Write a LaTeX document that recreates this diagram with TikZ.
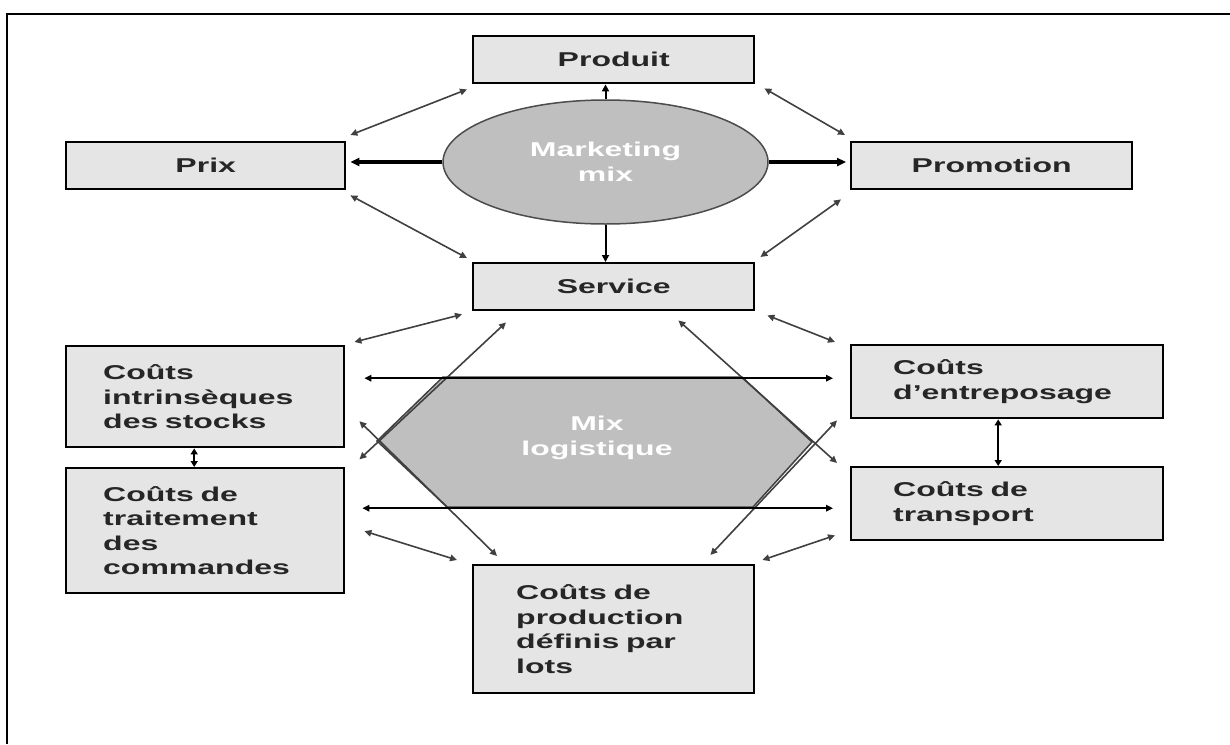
\documentclass[tikz,border=0pt]{standalone}
\usepackage{fontspec}
\setmainfont{Liberation Sans}[FakeStretch=1.6]
\usetikzlibrary{arrows.meta,calc,shapes.geometric}

\begin{document}
\begin{tikzpicture}[x=1pt,y=-1pt,
  txt/.style={font=\fontsize{20}{24.5}\selectfont\bfseries},
  box/.style={txt, draw=black, line width=2.4pt, fill=black!10, text=black!85,
    inner sep=0pt, anchor=north west},
  lbox/.style={box, align=left, inner xsep=#1},
  tip/.style={-{Triangle[length=7pt,width=6.5pt]}},
  dbl/.style={{Triangle[length=7pt,width=6.5pt]}-{Triangle[length=7pt,width=6.5pt]},
    draw=black!75, line width=1.6pt},
  hline/.style={{Triangle[length=7pt,width=6.5pt]}-{Triangle[length=7pt,width=6.5pt]},
    draw=black, line width=1.8pt},
  thick arrow/.style={-{Triangle[length=9pt,width=8pt]}, draw=black, line width=3.5pt},
  stem/.style={-{Triangle[length=7pt,width=7pt]}, draw=black, line width=2pt},
  pair/.style={{Triangle[length=6pt,width=7pt]}-{Triangle[length=6pt,width=7pt]},
    draw=black, line width=2pt}
]
\useasboundingbox (0,0) rectangle (1230,744);

% frame
\draw[line width=2pt] (7,744) -- (7,14) -- (1230,14);

% marketing mix boxes
\node[box, minimum width=281pt, minimum height=47pt] (prod) at (472,35) {Produit};
\node[box, minimum width=279pt, minimum height=47pt] (prix) at (65,141) {Prix};
\node[box, minimum width=281pt, minimum height=47pt] (promo) at (850,141) {Promotion};
\node[box, minimum width=281pt, minimum height=47pt] (serv) at (472,262) {Service};

% marketing mix ellipse
\node[ellipse, draw=black!70, line width=1.5pt, fill=black!25, minimum width=325pt,
  minimum height=124pt, txt, text=white, align=center] (mk) at (605.5,162)
  {Marketing\\mix};

% logistics mix hexagon
\filldraw[fill=black!25, draw=black!75, line width=1.5pt]
  (377,441) -- (443,377) -- (742,377) -- (812,442) -- (753,507) -- (447,507) -- cycle;
\node[txt, text=white, align=center] (mixlog) at (597,438) {Mix\\logistique};

% cost boxes
\node[lbox=37pt, text width=204pt, minimum height=101pt] (intr) at (65,345)
  {Coûts\\intrinsèques\\des stocks};
\node[lbox=37pt, text width=204pt, minimum height=125pt] (trait) at (65,467)
  {Coûts de\\traitement\\des\\commandes};
\node[lbox=42pt, text width=228pt, minimum height=73pt] (entr) at (850,344)
  {Coûts\\d'entreposage};
\node[lbox=42pt, text width=228pt, minimum height=73pt] (transp) at (850,466)
  {Coûts de\\transport};
\node[lbox=43pt, text width=195pt, minimum height=128pt] (lots) at (472,564)
  {Coûts de\\production\\définis par\\lots};

% links from the ellipse
\draw[stem] (mk.north) -- (mk.north |- prod.south);
\draw[stem] (mk.south) -- (mk.south |- serv.north);
\draw[thick arrow, shorten >=4pt] (mk.west) -- (mk.west -| prix.east);
\draw[thick arrow, shorten >=4pt] (mk.east) -- (mk.east -| promo.west);

% links around the marketing mix
\draw[dbl] ($(prix.north east)+(4,-6)$) -- ($(prod.south west)+(-5,5)$);
\draw[dbl] ($(prod.south east)+(9,4)$) -- ($(promo.north west)+(-5,-6)$);
\draw[dbl] ($(prix.south east)+(4,5)$) -- ($(serv.north west)+(-5,-4)$);
\draw[dbl] ($(promo.south west)+(-9,9)$) -- ($(serv.north east)+(5,-5)$);

% links from the service box
\draw[dbl] ($(serv.south west)+(-10,3)$) -- ($(intr.north east)+(9,-3)$);
\draw[dbl] ($(serv.south east)+(12,4)$) -- ($(entr.north west)+(-15,-2)$);
\draw[dbl] ($(serv.south west)+(34,11)$) -- ($(intr.south east)+(14,11)$);
\draw[dbl] ($(serv.south east)+(-77,9)$) -- ($(transp.north west)+(-13,-3)$);

% links to production costs
\draw[dbl] ($(intr.east)+(14,24.5)$) -- ($(lots.north west)+(25,-8)$);
\draw[dbl] ($(entr.south west)+(-13,1)$) -- ($(lots.north east)+(-45,-9)$);
\draw[dbl] ($(trait.east)+(19,0.5)$) -- ($(lots.north west)+(-15,-4)$);
\draw[dbl] ($(transp.south west)+(-15,-6)$) -- ($(lots.north east)+(7,-4)$);

% links across the logistics mix
\draw[hline] ($(intr.east)+(19,-18.5)$) -- ($(entr.west)+(-17,-3.5)$);
\draw[hline] ($(trait.east)+(17,-22.5)$) -- ($(transp.west)+(-17,4.5)$);

% links between stacked boxes
\draw[pair] ($(intr.south)+(-11,0)$) -- ($(trait.north)+(-11,0)$);
\draw[pair] ($(entr.south)+(-9,0)$) -- ($(transp.north)+(-9,0)$);
\end{tikzpicture}
\end{document}
